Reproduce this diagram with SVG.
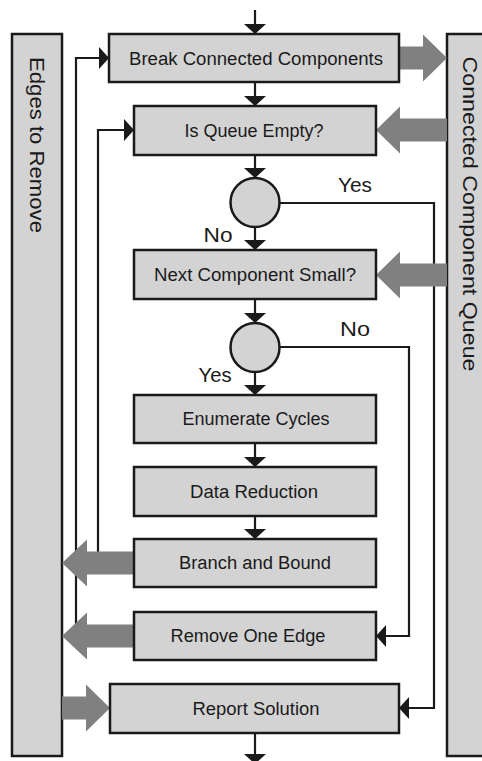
<svg xmlns="http://www.w3.org/2000/svg" width="482" height="761" viewBox="0 0 482 761">
<style>
.box{fill:#d3d3d3;stroke:#1a1a1a;stroke-width:2.5}
.lbl{font-family:"Liberation Sans",Arial,sans-serif;font-size:18px;fill:#1a1a1a;text-anchor:middle}
.big{font-family:"Liberation Sans",Arial,sans-serif;font-size:20px;fill:#1a1a1a;text-anchor:middle}
.con{fill:none;stroke:#1a1a1a;stroke-width:2.2}
.fat{fill:#808080}
</style>
<defs>
<marker id="ah" markerUnits="userSpaceOnUse" markerWidth="11" markerHeight="22" viewBox="0 0 11 22" refX="10" refY="11" orient="auto">
<path d="M0,0 L10,11 L0,22 z" fill="#1a1a1a"/>
</marker>
</defs>
<g id="edges-panel">
<rect class="box" x="12" y="34" width="50" height="722"/>
<text class="big" transform="translate(30,145) rotate(90)" textLength="176" lengthAdjust="spacingAndGlyphs">Edges to Remove</text>
</g>
<g id="queue-panel">
<rect class="box" x="447" y="34" width="60" height="722"/>
<text class="big" transform="translate(463,214) rotate(90)" textLength="315" lengthAdjust="spacingAndGlyphs">Connected Component Queue</text>
</g>
<g id="connectors">
<path class="con" marker-end="url(#ah)" d="M255,10 V34"/>
<path class="con" marker-end="url(#ah)" d="M255,82 V106"/>
<path class="con" marker-end="url(#ah)" d="M255,155 V178"/>
<path class="con" marker-end="url(#ah)" d="M255,227 V250"/>
<path class="con" marker-end="url(#ah)" d="M255,299 V323"/>
<path class="con" marker-end="url(#ah)" d="M255,372 V395"/>
<path class="con" marker-end="url(#ah)" d="M255,443 V467"/>
<path class="con" marker-end="url(#ah)" d="M255,516 V539"/>
<path class="con" marker-end="url(#ah)" d="M255,733 V764"/>
<path class="con" marker-end="url(#ah)" d="M279,203 H434 V708 H399"/>
<path class="con" marker-end="url(#ah)" d="M279,347 H409 V636 H376"/>
<path class="con" marker-end="url(#ah)" d="M134,563 H98 V130 H134"/>
<path class="con" marker-end="url(#ah)" d="M134,636 H76 V58 H109"/>
<polygon class="fat" points="399,46.5 423,46.5 423,34.5 447,58 423,81.5 423,69.5 399,69.5"/>
<polygon class="fat" points="447,118.5 400,118.5 400,106.5 376,130 400,153.5 400,141.5 447,141.5"/>
<polygon class="fat" points="447,263.5 400,263.5 400,251.5 376,275 400,298.5 400,286.5 447,286.5"/>
<polygon class="fat" points="134,551.5 87,551.5 87,539.5 62,563 87,586.5 87,574.5 134,574.5"/>
<polygon class="fat" points="134,624.5 87,624.5 87,612.5 62,636 87,659.5 87,647.5 134,647.5"/>
<polygon class="fat" points="62,696.5 86,696.5 86,684.5 110,708 86,731.5 86,719.5 62,719.5"/>
<text class="big" x="355" y="192" textLength="34" lengthAdjust="spacingAndGlyphs">Yes</text>
<text class="big" x="218" y="242" textLength="29" lengthAdjust="spacingAndGlyphs">No</text>
<text class="big" x="355" y="336" textLength="30" lengthAdjust="spacingAndGlyphs">No</text>
<text class="big" x="215" y="382" textLength="33" lengthAdjust="spacingAndGlyphs">Yes</text>
</g>
<g id="break">
<rect class="box" x="109" y="34" width="290" height="48"/>
<text class="lbl" x="256" y="65" textLength="254" lengthAdjust="spacingAndGlyphs">Break Connected Components</text>
</g>
<g id="queue-empty">
<rect class="box" x="134" y="106" width="242" height="49"/>
<text class="lbl" x="254" y="137" textLength="139" lengthAdjust="spacingAndGlyphs">Is Queue Empty?</text>
</g>
<g id="decision1">
<circle class="box" cx="255" cy="202.5" r="24.5"/>
</g>
<g id="next-small">
<rect class="box" x="134" y="250" width="242" height="49"/>
<text class="lbl" x="255" y="281" textLength="202" lengthAdjust="spacingAndGlyphs">Next Component Small?</text>
</g>
<g id="decision2">
<circle class="box" cx="255" cy="347.5" r="24.5"/>
</g>
<g id="enumerate">
<rect class="box" x="134" y="395" width="242" height="48"/>
<text class="lbl" x="256" y="425" textLength="147" lengthAdjust="spacingAndGlyphs">Enumerate Cycles</text>
</g>
<g id="data-reduction">
<rect class="box" x="134" y="467" width="242" height="49"/>
<text class="lbl" x="254" y="498" textLength="128" lengthAdjust="spacingAndGlyphs">Data Reduction</text>
</g>
<g id="branch-bound">
<rect class="box" x="134" y="539" width="242" height="48"/>
<text class="lbl" x="255" y="569" textLength="152" lengthAdjust="spacingAndGlyphs">Branch and Bound</text>
</g>
<g id="remove-edge">
<rect class="box" x="134" y="612" width="242" height="48"/>
<text class="lbl" x="248" y="642" textLength="155" lengthAdjust="spacingAndGlyphs">Remove One Edge</text>
</g>
<g id="report">
<rect class="box" x="110" y="684" width="289" height="49"/>
<text class="lbl" x="256" y="715" textLength="127" lengthAdjust="spacingAndGlyphs">Report Solution</text>
</g>
</svg>
